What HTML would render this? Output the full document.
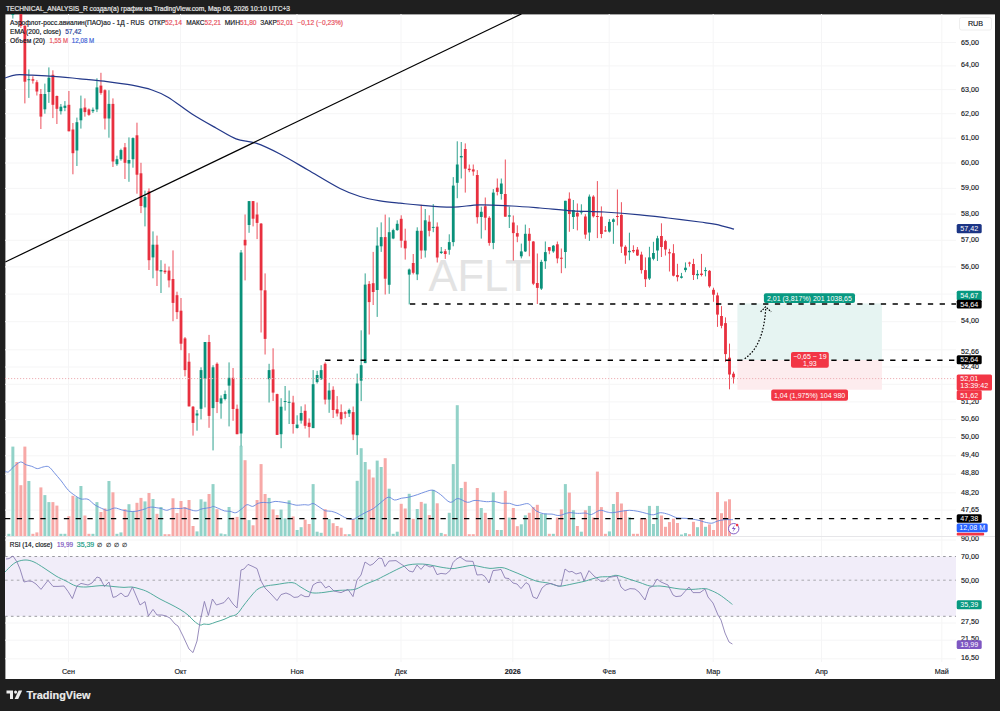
<!DOCTYPE html><html><head><meta charset="utf-8"><style>
html,body{margin:0;padding:0;background:#1f1f1f;width:1000px;height:711px;overflow:hidden}
svg{display:block;font-family:"Liberation Sans",sans-serif}
</style></head><body>
<svg width="1000" height="711" viewBox="0 0 1000 711">
<rect x="0" y="0" width="1000" height="711" fill="#1f1f1f"/>
<rect x="5.4" y="14.4" width="989.6" height="664.6" fill="#ffffff"/>
<defs><clipPath id="pane"><rect x="5" y="14" width="951" height="522"/></clipPath>
<clipPath id="c90"><rect x="950" y="536.2" width="50" height="20"/></clipPath><clipPath id="rsi"><rect x="5" y="537" width="951" height="125"/></clipPath></defs>
<line x1="5" x2="956" y1="42.5" y2="42.5" stroke="#f5f5f6" stroke-width="1"/>
<line x1="5" x2="956" y1="65.9" y2="65.9" stroke="#f5f5f6" stroke-width="1"/>
<line x1="5" x2="956" y1="89.6" y2="89.6" stroke="#f5f5f6" stroke-width="1"/>
<line x1="5" x2="956" y1="113.7" y2="113.7" stroke="#f5f5f6" stroke-width="1"/>
<line x1="5" x2="956" y1="138.2" y2="138.2" stroke="#f5f5f6" stroke-width="1"/>
<line x1="5" x2="956" y1="163.0" y2="163.0" stroke="#f5f5f6" stroke-width="1"/>
<line x1="5" x2="956" y1="188.4" y2="188.4" stroke="#f5f5f6" stroke-width="1"/>
<line x1="5" x2="956" y1="214.1" y2="214.1" stroke="#f5f5f6" stroke-width="1"/>
<line x1="5" x2="956" y1="240.3" y2="240.3" stroke="#f5f5f6" stroke-width="1"/>
<line x1="5" x2="956" y1="266.9" y2="266.9" stroke="#f5f5f6" stroke-width="1"/>
<line x1="5" x2="956" y1="294.1" y2="294.1" stroke="#f5f5f6" stroke-width="1"/>
<line x1="5" x2="956" y1="321.7" y2="321.7" stroke="#f5f5f6" stroke-width="1"/>
<line x1="5" x2="956" y1="349.8" y2="349.8" stroke="#f5f5f6" stroke-width="1"/>
<line x1="5" x2="956" y1="367.0" y2="367.0" stroke="#f5f5f6" stroke-width="1"/>
<line x1="5" x2="956" y1="384.3" y2="384.3" stroke="#f5f5f6" stroke-width="1"/>
<line x1="5" x2="956" y1="401.9" y2="401.9" stroke="#f5f5f6" stroke-width="1"/>
<line x1="5" x2="956" y1="419.6" y2="419.6" stroke="#f5f5f6" stroke-width="1"/>
<line x1="5" x2="956" y1="437.6" y2="437.6" stroke="#f5f5f6" stroke-width="1"/>
<line x1="5" x2="956" y1="455.8" y2="455.8" stroke="#f5f5f6" stroke-width="1"/>
<line x1="5" x2="956" y1="474.2" y2="474.2" stroke="#f5f5f6" stroke-width="1"/>
<line x1="5" x2="956" y1="492.8" y2="492.8" stroke="#f5f5f6" stroke-width="1"/>
<line x1="5" x2="956" y1="510.1" y2="510.1" stroke="#f5f5f6" stroke-width="1"/>
<line x1="5" x2="956" y1="540.0" y2="540.0" stroke="#f5f5f6" stroke-width="1"/>
<line x1="5" x2="956" y1="623.0" y2="623.0" stroke="#f5f5f6" stroke-width="1"/>
<line x1="5" x2="956" y1="640.2" y2="640.2" stroke="#f5f5f6" stroke-width="1"/>
<line x1="5" x2="956" y1="658.8" y2="658.8" stroke="#f5f5f6" stroke-width="1"/>
<line x1="68.5" x2="68.5" y1="14" y2="662" stroke="#f5f5f6" stroke-width="1"/>
<line x1="180.5" x2="180.5" y1="14" y2="662" stroke="#f5f5f6" stroke-width="1"/>
<line x1="297" x2="297" y1="14" y2="662" stroke="#f5f5f6" stroke-width="1"/>
<line x1="401" x2="401" y1="14" y2="662" stroke="#f5f5f6" stroke-width="1"/>
<line x1="512.8" x2="512.8" y1="14" y2="662" stroke="#f5f5f6" stroke-width="1"/>
<line x1="609.2" x2="609.2" y1="14" y2="662" stroke="#f5f5f6" stroke-width="1"/>
<line x1="713.2" x2="713.2" y1="14" y2="662" stroke="#f5f5f6" stroke-width="1"/>
<line x1="821.5" x2="821.5" y1="14" y2="662" stroke="#f5f5f6" stroke-width="1"/>
<line x1="941.8" x2="941.8" y1="14" y2="662" stroke="#f5f5f6" stroke-width="1"/>
<line x1="5" x2="995" y1="536.5" y2="536.5" stroke="#e6e6e9" stroke-width="1"/>
<text x="480" y="290.8" font-size="43.5" fill="#e3e3e3" text-anchor="middle" style="letter-spacing:0px">AFLT</text>
<g clip-path="url(#pane)">
<rect x="7.36" y="533.8" width="3.0" height="2.2" fill="#92d2c8"/>
<rect x="11.36" y="446.6" width="3.0" height="89.4" fill="#92d2c8"/>
<rect x="15.36" y="462.0" width="3.0" height="74.0" fill="#f7a9a7"/>
<rect x="19.37" y="485.2" width="3.0" height="50.8" fill="#f7a9a7"/>
<rect x="23.37" y="446.6" width="3.0" height="89.4" fill="#f7a9a7"/>
<rect x="27.37" y="481.0" width="3.0" height="55.0" fill="#92d2c8"/>
<rect x="31.38" y="533.8" width="3.0" height="2.2" fill="#f7a9a7"/>
<rect x="35.38" y="532.4" width="3.0" height="3.6" fill="#f7a9a7"/>
<rect x="39.39" y="487.4" width="3.0" height="48.6" fill="#f7a9a7"/>
<rect x="43.39" y="495.1" width="3.0" height="40.9" fill="#92d2c8"/>
<rect x="47.39" y="502.1" width="3.0" height="33.9" fill="#92d2c8"/>
<rect x="51.40" y="502.1" width="3.0" height="33.9" fill="#f7a9a7"/>
<rect x="55.40" y="505.6" width="3.0" height="30.4" fill="#f7a9a7"/>
<rect x="59.40" y="533.8" width="3.0" height="2.2" fill="#92d2c8"/>
<rect x="63.41" y="533.8" width="3.0" height="2.2" fill="#92d2c8"/>
<rect x="67.41" y="516.2" width="3.0" height="19.8" fill="#f7a9a7"/>
<rect x="71.41" y="495.8" width="3.0" height="40.2" fill="#f7a9a7"/>
<rect x="75.42" y="497.2" width="3.0" height="38.8" fill="#92d2c8"/>
<rect x="79.42" y="486.0" width="3.0" height="50.0" fill="#92d2c8"/>
<rect x="83.42" y="515.5" width="3.0" height="20.5" fill="#f7a9a7"/>
<rect x="87.43" y="533.8" width="3.0" height="2.2" fill="#f7a9a7"/>
<rect x="91.43" y="533.8" width="3.0" height="2.2" fill="#92d2c8"/>
<rect x="95.44" y="502.1" width="3.0" height="33.9" fill="#92d2c8"/>
<rect x="99.44" y="512.0" width="3.0" height="24.0" fill="#f7a9a7"/>
<rect x="103.44" y="508.5" width="3.0" height="27.5" fill="#f7a9a7"/>
<rect x="107.45" y="481.0" width="3.0" height="55.0" fill="#92d2c8"/>
<rect x="111.45" y="492.3" width="3.0" height="43.7" fill="#f7a9a7"/>
<rect x="115.45" y="533.8" width="3.0" height="2.2" fill="#92d2c8"/>
<rect x="119.46" y="532.4" width="3.0" height="3.6" fill="#92d2c8"/>
<rect x="123.46" y="509.2" width="3.0" height="26.8" fill="#f7a9a7"/>
<rect x="127.46" y="504.2" width="3.0" height="31.8" fill="#92d2c8"/>
<rect x="131.47" y="511.3" width="3.0" height="24.7" fill="#92d2c8"/>
<rect x="135.47" y="502.8" width="3.0" height="33.2" fill="#f7a9a7"/>
<rect x="139.48" y="497.9" width="3.0" height="38.1" fill="#f7a9a7"/>
<rect x="143.48" y="501.4" width="3.0" height="34.6" fill="#92d2c8"/>
<rect x="147.48" y="493.0" width="3.0" height="43.0" fill="#f7a9a7"/>
<rect x="151.49" y="499.0" width="3.0" height="37.0" fill="#92d2c8"/>
<rect x="155.49" y="513.8" width="3.0" height="22.2" fill="#f7a9a7"/>
<rect x="159.49" y="507.0" width="3.0" height="29.0" fill="#92d2c8"/>
<rect x="163.50" y="534.2" width="3.0" height="1.8" fill="#f7a9a7"/>
<rect x="167.50" y="534.2" width="3.0" height="1.8" fill="#f7a9a7"/>
<rect x="171.50" y="498.3" width="3.0" height="37.7" fill="#f7a9a7"/>
<rect x="175.51" y="513.1" width="3.0" height="22.9" fill="#f7a9a7"/>
<rect x="179.51" y="501.0" width="3.0" height="35.0" fill="#f7a9a7"/>
<rect x="183.51" y="507.0" width="3.0" height="29.0" fill="#f7a9a7"/>
<rect x="187.52" y="500.0" width="3.0" height="36.0" fill="#f7a9a7"/>
<rect x="191.52" y="526.0" width="3.0" height="10.0" fill="#f7a9a7"/>
<rect x="195.53" y="531.4" width="3.0" height="4.6" fill="#92d2c8"/>
<rect x="199.53" y="499.3" width="3.0" height="36.7" fill="#92d2c8"/>
<rect x="203.53" y="501.7" width="3.0" height="34.3" fill="#92d2c8"/>
<rect x="207.54" y="494.0" width="3.0" height="42.0" fill="#f7a9a7"/>
<rect x="211.54" y="484.1" width="3.0" height="51.9" fill="#92d2c8"/>
<rect x="215.54" y="509.2" width="3.0" height="26.8" fill="#f7a9a7"/>
<rect x="219.55" y="533.5" width="3.0" height="2.5" fill="#92d2c8"/>
<rect x="223.55" y="534.2" width="3.0" height="1.8" fill="#92d2c8"/>
<rect x="227.55" y="507.0" width="3.0" height="29.0" fill="#92d2c8"/>
<rect x="231.56" y="517.6" width="3.0" height="18.4" fill="#f7a9a7"/>
<rect x="235.56" y="516.9" width="3.0" height="19.1" fill="#f7a9a7"/>
<rect x="239.57" y="445.8" width="3.0" height="90.2" fill="#92d2c8"/>
<rect x="243.57" y="460.2" width="3.0" height="75.8" fill="#f7a9a7"/>
<rect x="247.57" y="520.1" width="3.0" height="15.9" fill="#92d2c8"/>
<rect x="251.58" y="525.3" width="3.0" height="10.7" fill="#f7a9a7"/>
<rect x="255.58" y="500.0" width="3.0" height="36.0" fill="#f7a9a7"/>
<rect x="259.58" y="464.1" width="3.0" height="71.9" fill="#f7a9a7"/>
<rect x="263.59" y="494.0" width="3.0" height="42.0" fill="#f7a9a7"/>
<rect x="267.59" y="497.9" width="3.0" height="38.1" fill="#92d2c8"/>
<rect x="271.59" y="509.4" width="3.0" height="26.6" fill="#f7a9a7"/>
<rect x="275.60" y="515.0" width="3.0" height="21.0" fill="#f7a9a7"/>
<rect x="279.60" y="509.6" width="3.0" height="26.4" fill="#92d2c8"/>
<rect x="283.60" y="518.3" width="3.0" height="17.7" fill="#92d2c8"/>
<rect x="287.61" y="500.4" width="3.0" height="35.6" fill="#92d2c8"/>
<rect x="291.61" y="516.5" width="3.0" height="19.5" fill="#f7a9a7"/>
<rect x="295.62" y="530.0" width="3.0" height="6.0" fill="#92d2c8"/>
<rect x="299.62" y="527.2" width="3.0" height="8.8" fill="#92d2c8"/>
<rect x="303.62" y="519.7" width="3.0" height="16.3" fill="#f7a9a7"/>
<rect x="307.63" y="524.0" width="3.0" height="12.0" fill="#f7a9a7"/>
<rect x="311.63" y="484.1" width="3.0" height="51.9" fill="#92d2c8"/>
<rect x="315.63" y="531.7" width="3.0" height="4.3" fill="#92d2c8"/>
<rect x="319.64" y="532.8" width="3.0" height="3.2" fill="#92d2c8"/>
<rect x="323.64" y="509.2" width="3.0" height="26.8" fill="#f7a9a7"/>
<rect x="327.64" y="519.0" width="3.0" height="17.0" fill="#92d2c8"/>
<rect x="331.65" y="523.2" width="3.0" height="12.8" fill="#f7a9a7"/>
<rect x="335.65" y="526.0" width="3.0" height="10.0" fill="#f7a9a7"/>
<rect x="339.66" y="527.7" width="3.0" height="8.3" fill="#f7a9a7"/>
<rect x="343.66" y="534.2" width="3.0" height="1.8" fill="#f7a9a7"/>
<rect x="347.66" y="534.2" width="3.0" height="1.8" fill="#92d2c8"/>
<rect x="351.67" y="519.0" width="3.0" height="17.0" fill="#f7a9a7"/>
<rect x="355.67" y="480.8" width="3.0" height="55.2" fill="#92d2c8"/>
<rect x="359.67" y="448.2" width="3.0" height="87.8" fill="#92d2c8"/>
<rect x="363.68" y="462.0" width="3.0" height="74.0" fill="#92d2c8"/>
<rect x="367.68" y="469.5" width="3.0" height="66.5" fill="#f7a9a7"/>
<rect x="371.68" y="477.5" width="3.0" height="58.5" fill="#f7a9a7"/>
<rect x="375.69" y="460.6" width="3.0" height="75.4" fill="#92d2c8"/>
<rect x="379.69" y="467.0" width="3.0" height="69.0" fill="#92d2c8"/>
<rect x="383.69" y="458.2" width="3.0" height="77.8" fill="#f7a9a7"/>
<rect x="387.70" y="488.7" width="3.0" height="47.3" fill="#92d2c8"/>
<rect x="391.70" y="533.8" width="3.0" height="2.2" fill="#92d2c8"/>
<rect x="395.71" y="531.7" width="3.0" height="4.3" fill="#92d2c8"/>
<rect x="399.71" y="503.8" width="3.0" height="32.2" fill="#f7a9a7"/>
<rect x="403.71" y="508.5" width="3.0" height="27.5" fill="#f7a9a7"/>
<rect x="407.72" y="493.8" width="3.0" height="42.2" fill="#92d2c8"/>
<rect x="411.72" y="518.8" width="3.0" height="17.2" fill="#f7a9a7"/>
<rect x="415.72" y="509.0" width="3.0" height="27.0" fill="#92d2c8"/>
<rect x="419.73" y="501.9" width="3.0" height="34.1" fill="#f7a9a7"/>
<rect x="423.73" y="503.6" width="3.0" height="32.4" fill="#92d2c8"/>
<rect x="427.73" y="515.1" width="3.0" height="20.9" fill="#f7a9a7"/>
<rect x="431.74" y="489.9" width="3.0" height="46.1" fill="#92d2c8"/>
<rect x="435.74" y="503.3" width="3.0" height="32.7" fill="#f7a9a7"/>
<rect x="439.75" y="532.9" width="3.0" height="3.1" fill="#92d2c8"/>
<rect x="443.75" y="534.2" width="3.0" height="1.8" fill="#f7a9a7"/>
<rect x="447.75" y="512.8" width="3.0" height="23.2" fill="#92d2c8"/>
<rect x="451.76" y="464.1" width="3.0" height="71.9" fill="#92d2c8"/>
<rect x="455.76" y="405.2" width="3.0" height="130.8" fill="#92d2c8"/>
<rect x="459.76" y="488.0" width="3.0" height="48.0" fill="#92d2c8"/>
<rect x="463.77" y="481.8" width="3.0" height="54.2" fill="#f7a9a7"/>
<rect x="467.77" y="534.2" width="3.0" height="1.8" fill="#f7a9a7"/>
<rect x="471.77" y="534.2" width="3.0" height="1.8" fill="#f7a9a7"/>
<rect x="475.78" y="488.0" width="3.0" height="48.0" fill="#f7a9a7"/>
<rect x="479.78" y="508.0" width="3.0" height="28.0" fill="#92d2c8"/>
<rect x="483.78" y="512.8" width="3.0" height="23.2" fill="#f7a9a7"/>
<rect x="487.79" y="519.5" width="3.0" height="16.5" fill="#f7a9a7"/>
<rect x="491.79" y="492.4" width="3.0" height="43.6" fill="#92d2c8"/>
<rect x="495.80" y="530.0" width="3.0" height="6.0" fill="#f7a9a7"/>
<rect x="499.80" y="530.0" width="3.0" height="6.0" fill="#92d2c8"/>
<rect x="503.80" y="490.8" width="3.0" height="45.2" fill="#f7a9a7"/>
<rect x="507.81" y="517.6" width="3.0" height="18.4" fill="#92d2c8"/>
<rect x="511.81" y="508.0" width="3.0" height="28.0" fill="#f7a9a7"/>
<rect x="515.81" y="526.2" width="3.0" height="9.8" fill="#f7a9a7"/>
<rect x="519.82" y="524.3" width="3.0" height="11.7" fill="#92d2c8"/>
<rect x="523.82" y="515.3" width="3.0" height="20.7" fill="#92d2c8"/>
<rect x="527.82" y="512.8" width="3.0" height="23.2" fill="#f7a9a7"/>
<rect x="531.83" y="507.1" width="3.0" height="28.9" fill="#f7a9a7"/>
<rect x="535.83" y="504.8" width="3.0" height="31.2" fill="#f7a9a7"/>
<rect x="539.84" y="513.8" width="3.0" height="22.2" fill="#92d2c8"/>
<rect x="543.84" y="513.6" width="3.0" height="22.4" fill="#92d2c8"/>
<rect x="547.84" y="533.8" width="3.0" height="2.2" fill="#f7a9a7"/>
<rect x="551.85" y="533.8" width="3.0" height="2.2" fill="#92d2c8"/>
<rect x="555.85" y="517.6" width="3.0" height="18.4" fill="#f7a9a7"/>
<rect x="559.85" y="509.4" width="3.0" height="26.6" fill="#f7a9a7"/>
<rect x="563.86" y="484.1" width="3.0" height="51.9" fill="#92d2c8"/>
<rect x="567.86" y="492.6" width="3.0" height="43.4" fill="#f7a9a7"/>
<rect x="571.86" y="510.2" width="3.0" height="25.8" fill="#92d2c8"/>
<rect x="575.87" y="526.0" width="3.0" height="10.0" fill="#f7a9a7"/>
<rect x="579.87" y="531.7" width="3.0" height="4.3" fill="#92d2c8"/>
<rect x="583.87" y="510.3" width="3.0" height="25.7" fill="#f7a9a7"/>
<rect x="587.88" y="505.9" width="3.0" height="30.1" fill="#92d2c8"/>
<rect x="591.88" y="517.6" width="3.0" height="18.4" fill="#f7a9a7"/>
<rect x="595.89" y="471.6" width="3.0" height="64.4" fill="#f7a9a7"/>
<rect x="599.89" y="507.1" width="3.0" height="28.9" fill="#f7a9a7"/>
<rect x="603.89" y="533.8" width="3.0" height="2.2" fill="#f7a9a7"/>
<rect x="607.90" y="531.4" width="3.0" height="4.6" fill="#92d2c8"/>
<rect x="611.90" y="504.0" width="3.0" height="32.0" fill="#92d2c8"/>
<rect x="615.90" y="492.0" width="3.0" height="44.0" fill="#f7a9a7"/>
<rect x="619.91" y="503.5" width="3.0" height="32.5" fill="#f7a9a7"/>
<rect x="623.91" y="510.3" width="3.0" height="25.7" fill="#f7a9a7"/>
<rect x="627.91" y="517.3" width="3.0" height="18.7" fill="#92d2c8"/>
<rect x="631.92" y="533.8" width="3.0" height="2.2" fill="#f7a9a7"/>
<rect x="635.92" y="533.8" width="3.0" height="2.2" fill="#f7a9a7"/>
<rect x="639.93" y="518.5" width="3.0" height="17.5" fill="#f7a9a7"/>
<rect x="643.93" y="518.8" width="3.0" height="17.2" fill="#f7a9a7"/>
<rect x="647.93" y="505.9" width="3.0" height="30.1" fill="#92d2c8"/>
<rect x="651.94" y="524.0" width="3.0" height="12.0" fill="#92d2c8"/>
<rect x="655.94" y="505.9" width="3.0" height="30.1" fill="#92d2c8"/>
<rect x="659.94" y="515.5" width="3.0" height="20.5" fill="#f7a9a7"/>
<rect x="663.95" y="526.8" width="3.0" height="9.2" fill="#f7a9a7"/>
<rect x="667.95" y="522.1" width="3.0" height="13.9" fill="#f7a9a7"/>
<rect x="671.95" y="518.7" width="3.0" height="17.3" fill="#f7a9a7"/>
<rect x="675.96" y="523.0" width="3.0" height="13.0" fill="#f7a9a7"/>
<rect x="679.96" y="534.5" width="3.0" height="1.5" fill="#92d2c8"/>
<rect x="683.96" y="533.1" width="3.0" height="2.9" fill="#92d2c8"/>
<rect x="687.97" y="534.2" width="3.0" height="1.8" fill="#f7a9a7"/>
<rect x="691.97" y="521.8" width="3.0" height="14.2" fill="#f7a9a7"/>
<rect x="695.98" y="527.2" width="3.0" height="8.8" fill="#92d2c8"/>
<rect x="699.98" y="519.7" width="3.0" height="16.3" fill="#f7a9a7"/>
<rect x="703.98" y="526.8" width="3.0" height="9.2" fill="#92d2c8"/>
<rect x="707.99" y="524.4" width="3.0" height="11.6" fill="#f7a9a7"/>
<rect x="711.99" y="530.0" width="3.0" height="6.0" fill="#f7a9a7"/>
<rect x="715.99" y="492.1" width="3.0" height="43.9" fill="#f7a9a7"/>
<rect x="720.00" y="513.2" width="3.0" height="22.8" fill="#f7a9a7"/>
<rect x="724.00" y="501.4" width="3.0" height="34.6" fill="#f7a9a7"/>
<rect x="728.00" y="499.3" width="3.0" height="36.7" fill="#f7a9a7"/>
<path d="M5.0,471.2 C5.6,471.3 7.1,472.6 8.5,471.9 C9.9,471.2 11.4,468.6 13.4,467.0 C15.4,465.4 18.4,462.4 20.5,462.0 C22.6,461.6 24.2,464.1 26.1,464.8 C28.0,465.5 29.8,465.7 31.7,466.3 C33.6,466.9 35.5,468.5 37.4,468.6 C39.3,468.7 41.1,467.3 43.0,467.0 C44.9,466.7 46.7,465.8 48.6,466.7 C50.5,467.6 52.1,470.2 54.2,472.6 C56.3,475.0 58.9,478.1 61.3,481.0 C63.6,483.9 65.9,487.7 68.3,490.2 C70.7,492.7 73.3,494.3 75.4,495.8 C77.5,497.3 78.9,498.4 81.0,499.0 C83.1,499.6 85.7,498.3 88.0,499.3 C90.3,500.3 92.4,503.4 95.0,505.0 C97.6,506.6 101.4,508.3 103.5,509.2 C105.6,510.1 105.8,510.5 107.7,510.3 C109.6,510.1 112.4,508.1 114.7,508.0 C117.0,507.9 119.4,509.3 121.8,509.9 C124.2,510.4 126.5,511.1 128.8,511.3 C131.2,511.5 133.3,511.7 135.9,511.3 C138.5,510.9 142.1,509.8 144.2,509.2 C146.3,508.6 147.0,507.9 148.4,507.5 C149.8,507.1 151.3,507.1 152.7,507.1 C154.1,507.2 155.5,507.6 156.9,507.8 C158.3,508.0 159.5,508.1 161.1,508.5 C162.7,508.9 164.8,510.3 166.7,510.3 C168.6,510.3 170.1,508.8 172.4,508.5 C174.8,508.2 178.7,508.6 180.8,508.5 C182.9,508.4 182.9,507.8 185.0,508.1 C187.1,508.5 191.4,510.2 193.5,510.6 C195.6,511.0 196.3,510.9 197.7,510.6 C199.1,510.3 199.8,509.4 201.9,508.9 C204.0,508.4 208.5,507.9 210.4,507.5 C212.3,507.1 211.8,506.2 213.2,506.4 C214.6,506.6 216.9,507.8 218.8,508.5 C220.7,509.2 222.5,510.4 224.4,510.9 C226.3,511.4 228.1,511.0 230.0,511.3 C231.9,511.6 233.8,513.1 235.7,512.7 C237.6,512.4 239.4,510.5 241.3,509.2 C243.2,507.9 245.0,505.2 246.9,504.7 C248.8,504.2 250.7,506.6 252.6,506.4 C254.5,506.2 256.3,504.0 258.2,503.3 C260.1,502.6 261.9,502.5 263.8,502.4 C265.7,502.3 267.5,503.0 269.4,502.8 C271.3,502.6 273.0,501.5 275.1,501.4 C277.2,501.3 279.7,501.8 282.0,502.1 C284.3,502.4 286.8,502.8 289.1,503.3 C291.5,503.8 293.5,505.0 296.1,505.2 C298.7,505.4 302.4,504.7 304.5,504.7 C306.6,504.7 307.4,505.2 308.8,505.0 C310.2,504.8 311.6,503.4 313.0,503.5 C314.4,503.6 315.6,504.7 317.2,505.7 C318.8,506.7 321.4,508.5 322.8,509.4 C324.2,510.3 324.3,510.6 325.7,510.9 C327.1,511.2 329.4,510.9 331.3,511.3 C333.2,511.7 335.0,512.3 336.9,513.1 C338.8,513.9 340.9,515.3 342.5,516.2 C344.1,517.1 345.0,517.8 346.8,518.3 C348.6,518.8 351.0,519.7 353.1,519.3 C355.2,518.9 357.2,517.1 359.4,515.9 C361.6,514.7 364.1,513.2 366.5,512.0 C368.9,510.8 371.2,510.0 373.5,508.5 C375.8,507.0 378.0,504.7 380.5,502.8 C383.0,500.9 385.9,497.7 388.3,497.2 C390.7,496.7 392.4,499.8 394.6,500.0 C396.8,500.2 399.2,498.7 401.6,498.2 C404.0,497.7 406.0,497.8 408.7,497.2 C411.4,496.6 414.8,495.5 417.6,494.6 C420.4,493.7 422.8,492.5 425.3,491.8 C427.9,491.1 430.3,489.7 432.9,490.2 C435.4,490.7 437.7,492.6 440.6,494.6 C443.5,496.6 447.3,501.7 450.2,502.3 C453.1,502.9 454.9,498.5 457.8,498.5 C460.7,498.5 464.5,502.0 467.4,502.3 C470.3,502.6 471.8,500.5 475.0,500.4 C478.2,500.3 483.3,501.5 486.5,501.7 C489.7,501.9 491.6,501.0 494.1,501.3 C496.7,501.6 499.2,503.0 501.8,503.3 C504.4,503.6 506.8,502.9 509.4,503.3 C511.9,503.7 514.2,505.4 517.1,505.5 C520.0,505.6 524.4,503.7 526.6,503.6 C528.8,503.6 528.9,504.0 530.5,505.2 C532.1,506.4 534.0,509.5 536.2,510.9 C538.4,512.3 541.2,513.3 543.8,513.8 C546.4,514.3 549.5,513.8 552.0,514.1 C554.5,514.4 556.3,515.7 559.1,515.5 C561.9,515.3 565.9,513.1 568.9,512.7 C571.9,512.4 574.6,513.3 577.4,513.4 C580.2,513.5 583.5,512.9 585.8,513.1 C588.1,513.3 589.0,515.0 591.4,514.5 C593.8,514.0 597.3,510.7 599.9,510.3 C602.5,509.9 604.8,511.6 606.9,512.0 C609.0,512.4 610.1,512.8 612.5,512.7 C614.9,512.6 618.2,511.7 621.0,511.3 C623.8,510.9 626.6,510.3 629.4,510.3 C632.2,510.3 635.1,510.8 637.9,511.3 C640.7,511.8 643.7,512.8 646.3,513.4 C648.9,514.0 650.9,514.9 653.3,514.8 C655.6,514.7 657.8,512.8 660.4,512.7 C663.0,512.7 666.0,513.6 668.8,514.5 C671.6,515.4 674.6,517.3 677.3,517.9 C680.0,518.5 682.5,518.1 685.0,518.3 C687.5,518.5 689.8,518.6 692.1,519.0 C694.5,519.4 697.0,519.9 699.1,520.4 C701.2,520.9 702.6,521.6 704.7,522.1 C706.8,522.6 709.7,523.4 711.8,523.2 C713.9,523.0 715.3,521.7 717.4,521.1 C719.5,520.5 721.8,519.9 724.4,519.7 C727.0,519.5 731.5,519.7 732.9,519.7" fill="none" stroke="#6585dc" stroke-width="0.9"/>
<line x1="12.86" x2="12.86" y1="14.0" y2="18.6" stroke="#0a917a" stroke-width="0.85"/>
<rect x="11.46" y="14.0" width="2.8" height="1.0" fill="#0a917a"/>
<line x1="20.87" x2="20.87" y1="14.0" y2="28.0" stroke="#e8303f" stroke-width="0.85"/>
<rect x="19.47" y="14.0" width="2.8" height="12.0" fill="#e8303f"/>
<line x1="24.87" x2="24.87" y1="25.6" y2="103.4" stroke="#e8303f" stroke-width="0.85"/>
<rect x="23.47" y="25.6" width="2.8" height="56.1" fill="#e8303f"/>
<line x1="28.87" x2="28.87" y1="69.4" y2="97.9" stroke="#0a917a" stroke-width="0.85"/>
<rect x="27.47" y="79.2" width="2.8" height="1.0" fill="#0a917a"/>
<line x1="32.88" x2="32.88" y1="76.3" y2="83.6" stroke="#e8303f" stroke-width="0.85"/>
<rect x="31.48" y="79.2" width="2.8" height="1.5" fill="#e8303f"/>
<line x1="36.88" x2="36.88" y1="80.2" y2="95.5" stroke="#e8303f" stroke-width="0.85"/>
<rect x="35.48" y="82.2" width="2.8" height="9.3" fill="#e8303f"/>
<line x1="40.89" x2="40.89" y1="89.0" y2="129.0" stroke="#e8303f" stroke-width="0.85"/>
<rect x="39.49" y="94.0" width="2.8" height="22.6" fill="#e8303f"/>
<line x1="44.89" x2="44.89" y1="83.6" y2="113.7" stroke="#0a917a" stroke-width="0.85"/>
<rect x="43.49" y="94.0" width="2.8" height="15.3" fill="#0a917a"/>
<line x1="48.89" x2="48.89" y1="67.4" y2="102.9" stroke="#0a917a" stroke-width="0.85"/>
<rect x="47.49" y="77.7" width="2.8" height="14.3" fill="#0a917a"/>
<line x1="52.90" x2="52.90" y1="70.3" y2="118.1" stroke="#e8303f" stroke-width="0.85"/>
<rect x="51.50" y="74.8" width="2.8" height="30.0" fill="#e8303f"/>
<line x1="56.90" x2="56.90" y1="95.5" y2="124.0" stroke="#e8303f" stroke-width="0.85"/>
<rect x="55.50" y="96.0" width="2.8" height="12.8" fill="#e8303f"/>
<line x1="60.90" x2="60.90" y1="104.0" y2="114.5" stroke="#0a917a" stroke-width="0.85"/>
<rect x="59.50" y="106.7" width="2.8" height="4.5" fill="#0a917a"/>
<line x1="64.91" x2="64.91" y1="101.1" y2="111.2" stroke="#0a917a" stroke-width="0.85"/>
<rect x="63.51" y="105.7" width="2.8" height="2.2" fill="#0a917a"/>
<line x1="68.91" x2="68.91" y1="91.0" y2="131.3" stroke="#e8303f" stroke-width="0.85"/>
<rect x="67.51" y="104.8" width="2.8" height="26.5" fill="#e8303f"/>
<line x1="72.91" x2="72.91" y1="123.0" y2="174.3" stroke="#e8303f" stroke-width="0.85"/>
<rect x="71.51" y="129.5" width="2.8" height="23.7" fill="#e8303f"/>
<line x1="76.92" x2="76.92" y1="117.6" y2="166.0" stroke="#0a917a" stroke-width="0.85"/>
<rect x="75.52" y="122.2" width="2.8" height="28.3" fill="#0a917a"/>
<line x1="80.92" x2="80.92" y1="95.6" y2="128.6" stroke="#0a917a" stroke-width="0.85"/>
<rect x="79.52" y="108.4" width="2.8" height="11.9" fill="#0a917a"/>
<line x1="84.92" x2="84.92" y1="98.4" y2="116.7" stroke="#e8303f" stroke-width="0.85"/>
<rect x="83.52" y="107.5" width="2.8" height="4.6" fill="#e8303f"/>
<line x1="88.93" x2="88.93" y1="108.4" y2="115.8" stroke="#e8303f" stroke-width="0.85"/>
<rect x="87.53" y="109.4" width="2.8" height="5.4" fill="#e8303f"/>
<line x1="92.93" x2="92.93" y1="107.5" y2="113.0" stroke="#0a917a" stroke-width="0.85"/>
<rect x="91.53" y="109.7" width="2.8" height="1.5" fill="#0a917a"/>
<line x1="96.94" x2="96.94" y1="78.3" y2="112.1" stroke="#0a917a" stroke-width="0.85"/>
<rect x="95.54" y="87.4" width="2.8" height="22.0" fill="#0a917a"/>
<line x1="100.94" x2="100.94" y1="72.8" y2="94.7" stroke="#e8303f" stroke-width="0.85"/>
<rect x="99.54" y="85.6" width="2.8" height="7.3" fill="#e8303f"/>
<line x1="104.94" x2="104.94" y1="89.3" y2="129.5" stroke="#e8303f" stroke-width="0.85"/>
<rect x="103.54" y="90.2" width="2.8" height="28.3" fill="#e8303f"/>
<line x1="108.95" x2="108.95" y1="90.2" y2="137.7" stroke="#0a917a" stroke-width="0.85"/>
<rect x="107.55" y="103.9" width="2.8" height="14.6" fill="#0a917a"/>
<line x1="112.95" x2="112.95" y1="98.4" y2="167.0" stroke="#e8303f" stroke-width="0.85"/>
<rect x="111.55" y="103.9" width="2.8" height="57.6" fill="#e8303f"/>
<line x1="116.95" x2="116.95" y1="155.7" y2="165.8" stroke="#0a917a" stroke-width="0.85"/>
<rect x="115.55" y="159.2" width="2.8" height="5.0" fill="#0a917a"/>
<line x1="120.96" x2="120.96" y1="148.7" y2="160.7" stroke="#0a917a" stroke-width="0.85"/>
<rect x="119.56" y="150.1" width="2.8" height="9.1" fill="#0a917a"/>
<line x1="124.96" x2="124.96" y1="143.0" y2="179.0" stroke="#e8303f" stroke-width="0.85"/>
<rect x="123.56" y="147.3" width="2.8" height="15.5" fill="#e8303f"/>
<line x1="128.96" x2="128.96" y1="137.4" y2="181.8" stroke="#0a917a" stroke-width="0.85"/>
<rect x="127.56" y="160.0" width="2.8" height="3.5" fill="#0a917a"/>
<line x1="132.97" x2="132.97" y1="137.4" y2="167.7" stroke="#0a917a" stroke-width="0.85"/>
<rect x="131.57" y="138.1" width="2.8" height="21.1" fill="#0a917a"/>
<line x1="136.97" x2="136.97" y1="122.7" y2="193.7" stroke="#e8303f" stroke-width="0.85"/>
<rect x="135.57" y="135.3" width="2.8" height="39.4" fill="#e8303f"/>
<line x1="140.98" x2="140.98" y1="162.8" y2="213.1" stroke="#e8303f" stroke-width="0.85"/>
<rect x="139.58" y="173.3" width="2.8" height="32.7" fill="#e8303f"/>
<line x1="144.98" x2="144.98" y1="190.6" y2="226.4" stroke="#0a917a" stroke-width="0.85"/>
<rect x="143.58" y="196.9" width="2.8" height="10.5" fill="#0a917a"/>
<line x1="148.98" x2="148.98" y1="188.4" y2="270.0" stroke="#e8303f" stroke-width="0.85"/>
<rect x="147.58" y="191.3" width="2.8" height="68.9" fill="#e8303f"/>
<line x1="152.99" x2="152.99" y1="231.4" y2="278.3" stroke="#0a917a" stroke-width="0.85"/>
<rect x="151.59" y="244.7" width="2.8" height="12.7" fill="#0a917a"/>
<line x1="156.99" x2="156.99" y1="235.6" y2="286.0" stroke="#e8303f" stroke-width="0.85"/>
<rect x="155.59" y="244.7" width="2.8" height="25.9" fill="#e8303f"/>
<line x1="160.99" x2="160.99" y1="260.2" y2="293.0" stroke="#0a917a" stroke-width="0.85"/>
<rect x="159.59" y="270.0" width="2.8" height="1.5" fill="#0a917a"/>
<line x1="165.00" x2="165.00" y1="263.7" y2="274.0" stroke="#e8303f" stroke-width="0.85"/>
<rect x="163.60" y="270.6" width="2.8" height="1.6" fill="#e8303f"/>
<line x1="169.00" x2="169.00" y1="266.5" y2="287.4" stroke="#e8303f" stroke-width="0.85"/>
<rect x="167.60" y="270.6" width="2.8" height="9.8" fill="#e8303f"/>
<line x1="173.00" x2="173.00" y1="250.4" y2="321.2" stroke="#e8303f" stroke-width="0.85"/>
<rect x="171.60" y="279.0" width="2.8" height="23.9" fill="#e8303f"/>
<line x1="177.01" x2="177.01" y1="291.7" y2="319.1" stroke="#e8303f" stroke-width="0.85"/>
<rect x="175.61" y="295.2" width="2.8" height="16.9" fill="#e8303f"/>
<line x1="181.01" x2="181.01" y1="298.0" y2="350.2" stroke="#e8303f" stroke-width="0.85"/>
<rect x="179.61" y="310.7" width="2.8" height="33.0" fill="#e8303f"/>
<line x1="185.01" x2="185.01" y1="337.0" y2="376.4" stroke="#e8303f" stroke-width="0.85"/>
<rect x="183.61" y="338.4" width="2.8" height="31.7" fill="#e8303f"/>
<line x1="189.02" x2="189.02" y1="353.2" y2="406.4" stroke="#e8303f" stroke-width="0.85"/>
<rect x="187.62" y="361.7" width="2.8" height="44.7" fill="#e8303f"/>
<line x1="193.02" x2="193.02" y1="406.0" y2="435.6" stroke="#e8303f" stroke-width="0.85"/>
<rect x="191.62" y="406.7" width="2.8" height="16.2" fill="#e8303f"/>
<line x1="197.03" x2="197.03" y1="410.0" y2="430.7" stroke="#0a917a" stroke-width="0.85"/>
<rect x="195.63" y="413.5" width="2.8" height="2.0" fill="#0a917a"/>
<line x1="201.03" x2="201.03" y1="367.3" y2="419.4" stroke="#0a917a" stroke-width="0.85"/>
<rect x="199.63" y="370.1" width="2.8" height="38.7" fill="#0a917a"/>
<line x1="205.03" x2="205.03" y1="342.0" y2="407.4" stroke="#0a917a" stroke-width="0.85"/>
<rect x="203.63" y="342.0" width="2.8" height="36.5" fill="#0a917a"/>
<line x1="209.04" x2="209.04" y1="334.9" y2="427.8" stroke="#e8303f" stroke-width="0.85"/>
<rect x="207.64" y="342.0" width="2.8" height="73.9" fill="#e8303f"/>
<line x1="213.04" x2="213.04" y1="365.2" y2="450.4" stroke="#0a917a" stroke-width="0.85"/>
<rect x="211.64" y="367.3" width="2.8" height="40.8" fill="#0a917a"/>
<line x1="217.04" x2="217.04" y1="362.4" y2="413.1" stroke="#e8303f" stroke-width="0.85"/>
<rect x="215.64" y="363.8" width="2.8" height="38.2" fill="#e8303f"/>
<line x1="221.05" x2="221.05" y1="395.4" y2="418.7" stroke="#0a917a" stroke-width="0.85"/>
<rect x="219.65" y="398.3" width="2.8" height="5.2" fill="#0a917a"/>
<line x1="225.05" x2="225.05" y1="390.5" y2="400.4" stroke="#0a917a" stroke-width="0.85"/>
<rect x="223.65" y="394.0" width="2.8" height="5.0" fill="#0a917a"/>
<line x1="229.05" x2="229.05" y1="362.4" y2="426.4" stroke="#0a917a" stroke-width="0.85"/>
<rect x="227.65" y="377.8" width="2.8" height="7.8" fill="#0a917a"/>
<line x1="233.06" x2="233.06" y1="368.0" y2="420.8" stroke="#e8303f" stroke-width="0.85"/>
<rect x="231.66" y="377.8" width="2.8" height="31.2" fill="#e8303f"/>
<line x1="237.06" x2="237.06" y1="404.6" y2="434.2" stroke="#e8303f" stroke-width="0.85"/>
<rect x="235.66" y="408.8" width="2.8" height="25.4" fill="#e8303f"/>
<line x1="241.07" x2="241.07" y1="250.0" y2="446.1" stroke="#0a917a" stroke-width="0.85"/>
<rect x="239.67" y="252.5" width="2.8" height="181.0" fill="#0a917a"/>
<line x1="245.07" x2="245.07" y1="214.5" y2="280.4" stroke="#e8303f" stroke-width="0.85"/>
<rect x="243.67" y="239.8" width="2.8" height="5.6" fill="#e8303f"/>
<line x1="249.07" x2="249.07" y1="201.0" y2="232.8" stroke="#0a917a" stroke-width="0.85"/>
<rect x="247.67" y="201.1" width="2.8" height="23.9" fill="#0a917a"/>
<line x1="253.08" x2="253.08" y1="201.1" y2="226.4" stroke="#e8303f" stroke-width="0.85"/>
<rect x="251.68" y="201.1" width="2.8" height="17.6" fill="#e8303f"/>
<line x1="257.08" x2="257.08" y1="202.5" y2="239.1" stroke="#e8303f" stroke-width="0.85"/>
<rect x="255.68" y="214.5" width="2.8" height="8.4" fill="#e8303f"/>
<line x1="261.08" x2="261.08" y1="223.0" y2="332.5" stroke="#e8303f" stroke-width="0.85"/>
<rect x="259.68" y="223.6" width="2.8" height="66.7" fill="#e8303f"/>
<line x1="265.09" x2="265.09" y1="273.4" y2="354.5" stroke="#e8303f" stroke-width="0.85"/>
<rect x="263.69" y="290.3" width="2.8" height="48.6" fill="#e8303f"/>
<line x1="269.09" x2="269.09" y1="363.8" y2="402.5" stroke="#0a917a" stroke-width="0.85"/>
<rect x="267.69" y="370.1" width="2.8" height="9.1" fill="#0a917a"/>
<line x1="273.09" x2="273.09" y1="348.3" y2="401.0" stroke="#e8303f" stroke-width="0.85"/>
<rect x="271.69" y="369.4" width="2.8" height="23.2" fill="#e8303f"/>
<line x1="277.10" x2="277.10" y1="393.7" y2="434.9" stroke="#e8303f" stroke-width="0.85"/>
<rect x="275.70" y="394.1" width="2.8" height="40.8" fill="#e8303f"/>
<line x1="281.10" x2="281.10" y1="398.2" y2="448.2" stroke="#0a917a" stroke-width="0.85"/>
<rect x="279.70" y="406.7" width="2.8" height="27.5" fill="#0a917a"/>
<line x1="285.10" x2="285.10" y1="386.0" y2="410.6" stroke="#0a917a" stroke-width="0.85"/>
<rect x="283.70" y="401.0" width="2.8" height="1.0" fill="#0a917a"/>
<line x1="289.11" x2="289.11" y1="390.5" y2="424.0" stroke="#0a917a" stroke-width="0.85"/>
<rect x="287.71" y="401.8" width="2.8" height="1.0" fill="#0a917a"/>
<line x1="293.11" x2="293.11" y1="395.8" y2="433.6" stroke="#e8303f" stroke-width="0.85"/>
<rect x="291.71" y="402.5" width="2.8" height="21.5" fill="#e8303f"/>
<line x1="297.12" x2="297.12" y1="415.3" y2="428.6" stroke="#0a917a" stroke-width="0.85"/>
<rect x="295.72" y="424.6" width="2.8" height="3.4" fill="#0a917a"/>
<line x1="301.12" x2="301.12" y1="406.3" y2="423.6" stroke="#0a917a" stroke-width="0.85"/>
<rect x="299.72" y="413.0" width="2.8" height="7.6" fill="#0a917a"/>
<line x1="305.12" x2="305.12" y1="404.4" y2="428.6" stroke="#e8303f" stroke-width="0.85"/>
<rect x="303.72" y="410.8" width="2.8" height="15.0" fill="#e8303f"/>
<line x1="309.13" x2="309.13" y1="418.4" y2="437.5" stroke="#e8303f" stroke-width="0.85"/>
<rect x="307.73" y="422.7" width="2.8" height="4.2" fill="#e8303f"/>
<line x1="313.13" x2="313.13" y1="370.1" y2="428.1" stroke="#0a917a" stroke-width="0.85"/>
<rect x="311.73" y="384.2" width="2.8" height="43.9" fill="#0a917a"/>
<line x1="317.13" x2="317.13" y1="370.8" y2="383.5" stroke="#0a917a" stroke-width="0.85"/>
<rect x="315.73" y="375.0" width="2.8" height="7.1" fill="#0a917a"/>
<line x1="321.14" x2="321.14" y1="365.2" y2="380.0" stroke="#0a917a" stroke-width="0.85"/>
<rect x="319.74" y="370.1" width="2.8" height="9.1" fill="#0a917a"/>
<line x1="325.14" x2="325.14" y1="362.4" y2="404.4" stroke="#e8303f" stroke-width="0.85"/>
<rect x="323.74" y="363.8" width="2.8" height="35.8" fill="#e8303f"/>
<line x1="329.14" x2="329.14" y1="382.8" y2="412.8" stroke="#0a917a" stroke-width="0.85"/>
<rect x="327.74" y="390.5" width="2.8" height="9.1" fill="#0a917a"/>
<line x1="333.15" x2="333.15" y1="386.3" y2="418.0" stroke="#e8303f" stroke-width="0.85"/>
<rect x="331.75" y="389.8" width="2.8" height="20.2" fill="#e8303f"/>
<line x1="337.15" x2="337.15" y1="396.1" y2="416.5" stroke="#e8303f" stroke-width="0.85"/>
<rect x="335.75" y="409.3" width="2.8" height="4.2" fill="#e8303f"/>
<line x1="341.16" x2="341.16" y1="404.4" y2="424.4" stroke="#e8303f" stroke-width="0.85"/>
<rect x="339.76" y="412.1" width="2.8" height="7.1" fill="#e8303f"/>
<line x1="345.16" x2="345.16" y1="410.9" y2="418.2" stroke="#e8303f" stroke-width="0.85"/>
<rect x="343.76" y="412.3" width="2.8" height="1.4" fill="#e8303f"/>
<line x1="349.16" x2="349.16" y1="408.6" y2="417.0" stroke="#0a917a" stroke-width="0.85"/>
<rect x="347.76" y="410.0" width="2.8" height="3.5" fill="#0a917a"/>
<line x1="353.17" x2="353.17" y1="406.5" y2="440.1" stroke="#e8303f" stroke-width="0.85"/>
<rect x="351.77" y="412.1" width="2.8" height="22.4" fill="#e8303f"/>
<line x1="357.17" x2="357.17" y1="373.6" y2="454.9" stroke="#0a917a" stroke-width="0.85"/>
<rect x="355.77" y="383.5" width="2.8" height="51.7" fill="#0a917a"/>
<line x1="361.17" x2="361.17" y1="330.3" y2="401.1" stroke="#0a917a" stroke-width="0.85"/>
<rect x="359.77" y="365.2" width="2.8" height="15.5" fill="#0a917a"/>
<line x1="365.18" x2="365.18" y1="273.4" y2="363.1" stroke="#0a917a" stroke-width="0.85"/>
<rect x="363.78" y="284.6" width="2.8" height="78.5" fill="#0a917a"/>
<line x1="369.18" x2="369.18" y1="281.1" y2="334.5" stroke="#e8303f" stroke-width="0.85"/>
<rect x="367.78" y="283.9" width="2.8" height="18.2" fill="#e8303f"/>
<line x1="373.18" x2="373.18" y1="251.9" y2="305.0" stroke="#e8303f" stroke-width="0.85"/>
<rect x="371.78" y="283.2" width="2.8" height="8.8" fill="#e8303f"/>
<line x1="377.19" x2="377.19" y1="227.3" y2="316.9" stroke="#0a917a" stroke-width="0.85"/>
<rect x="375.79" y="245.6" width="2.8" height="44.4" fill="#0a917a"/>
<line x1="381.19" x2="381.19" y1="222.4" y2="251.9" stroke="#0a917a" stroke-width="0.85"/>
<rect x="379.79" y="237.1" width="2.8" height="9.2" fill="#0a917a"/>
<line x1="385.19" x2="385.19" y1="214.6" y2="294.5" stroke="#e8303f" stroke-width="0.85"/>
<rect x="383.79" y="237.1" width="2.8" height="41.6" fill="#e8303f"/>
<line x1="389.20" x2="389.20" y1="217.4" y2="293.8" stroke="#0a917a" stroke-width="0.85"/>
<rect x="387.80" y="232.2" width="2.8" height="52.6" fill="#0a917a"/>
<line x1="393.20" x2="393.20" y1="228.7" y2="239.2" stroke="#0a917a" stroke-width="0.85"/>
<rect x="391.80" y="230.1" width="2.8" height="8.4" fill="#0a917a"/>
<line x1="397.21" x2="397.21" y1="220.3" y2="230.8" stroke="#0a917a" stroke-width="0.85"/>
<rect x="395.81" y="223.8" width="2.8" height="6.3" fill="#0a917a"/>
<line x1="401.21" x2="401.21" y1="215.3" y2="247.7" stroke="#e8303f" stroke-width="0.85"/>
<rect x="399.81" y="218.8" width="2.8" height="21.9" fill="#e8303f"/>
<line x1="405.21" x2="405.21" y1="228.7" y2="259.6" stroke="#e8303f" stroke-width="0.85"/>
<rect x="403.81" y="240.7" width="2.8" height="7.7" fill="#e8303f"/>
<line x1="409.22" x2="409.22" y1="268.5" y2="304.4" stroke="#0a917a" stroke-width="0.85"/>
<rect x="407.82" y="269.5" width="2.8" height="5.1" fill="#0a917a"/>
<line x1="413.22" x2="413.22" y1="254.0" y2="274.4" stroke="#e8303f" stroke-width="0.85"/>
<rect x="411.82" y="263.0" width="2.8" height="9.8" fill="#e8303f"/>
<line x1="417.22" x2="417.22" y1="227.3" y2="280.1" stroke="#0a917a" stroke-width="0.85"/>
<rect x="415.82" y="230.8" width="2.8" height="43.6" fill="#0a917a"/>
<line x1="421.23" x2="421.23" y1="204.8" y2="258.9" stroke="#e8303f" stroke-width="0.85"/>
<rect x="419.83" y="230.8" width="2.8" height="19.7" fill="#e8303f"/>
<line x1="425.23" x2="425.23" y1="209.0" y2="257.5" stroke="#0a917a" stroke-width="0.85"/>
<rect x="423.83" y="220.3" width="2.8" height="30.2" fill="#0a917a"/>
<line x1="429.23" x2="429.23" y1="215.3" y2="236.4" stroke="#e8303f" stroke-width="0.85"/>
<rect x="427.83" y="221.7" width="2.8" height="9.1" fill="#e8303f"/>
<line x1="433.24" x2="433.24" y1="204.1" y2="232.2" stroke="#0a917a" stroke-width="0.85"/>
<rect x="431.84" y="226.9" width="2.8" height="1.0" fill="#0a917a"/>
<line x1="437.24" x2="437.24" y1="222.4" y2="262.5" stroke="#e8303f" stroke-width="0.85"/>
<rect x="435.84" y="226.6" width="2.8" height="30.9" fill="#e8303f"/>
<line x1="441.25" x2="441.25" y1="247.0" y2="254.0" stroke="#0a917a" stroke-width="0.85"/>
<rect x="439.85" y="251.6" width="2.8" height="1.4" fill="#0a917a"/>
<line x1="445.25" x2="445.25" y1="249.1" y2="258.9" stroke="#e8303f" stroke-width="0.85"/>
<rect x="443.85" y="251.2" width="2.8" height="2.8" fill="#e8303f"/>
<line x1="449.25" x2="449.25" y1="234.3" y2="254.7" stroke="#0a917a" stroke-width="0.85"/>
<rect x="447.85" y="242.1" width="2.8" height="7.7" fill="#0a917a"/>
<line x1="453.26" x2="453.26" y1="177.1" y2="246.3" stroke="#0a917a" stroke-width="0.85"/>
<rect x="451.86" y="185.6" width="2.8" height="56.5" fill="#0a917a"/>
<line x1="457.26" x2="457.26" y1="141.3" y2="198.2" stroke="#0a917a" stroke-width="0.85"/>
<rect x="455.86" y="164.5" width="2.8" height="18.3" fill="#0a917a"/>
<line x1="461.26" x2="461.26" y1="142.0" y2="178.5" stroke="#0a917a" stroke-width="0.85"/>
<rect x="459.86" y="156.0" width="2.8" height="1.4" fill="#0a917a"/>
<line x1="465.27" x2="465.27" y1="143.4" y2="192.6" stroke="#e8303f" stroke-width="0.85"/>
<rect x="463.87" y="149.0" width="2.8" height="19.7" fill="#e8303f"/>
<line x1="469.27" x2="469.27" y1="164.5" y2="172.2" stroke="#e8303f" stroke-width="0.85"/>
<rect x="467.87" y="168.7" width="2.8" height="1.4" fill="#e8303f"/>
<line x1="473.27" x2="473.27" y1="164.5" y2="175.7" stroke="#e8303f" stroke-width="0.85"/>
<rect x="471.87" y="169.4" width="2.8" height="2.1" fill="#e8303f"/>
<line x1="477.28" x2="477.28" y1="170.1" y2="223.6" stroke="#e8303f" stroke-width="0.85"/>
<rect x="475.88" y="175.0" width="2.8" height="42.2" fill="#e8303f"/>
<line x1="481.28" x2="481.28" y1="206.7" y2="238.6" stroke="#0a917a" stroke-width="0.85"/>
<rect x="479.88" y="211.8" width="2.8" height="5.2" fill="#0a917a"/>
<line x1="485.28" x2="485.28" y1="197.5" y2="230.2" stroke="#e8303f" stroke-width="0.85"/>
<rect x="483.88" y="206.2" width="2.8" height="11.5" fill="#e8303f"/>
<line x1="489.29" x2="489.29" y1="216.2" y2="245.7" stroke="#e8303f" stroke-width="0.85"/>
<rect x="487.89" y="217.8" width="2.8" height="25.1" fill="#e8303f"/>
<line x1="493.29" x2="493.29" y1="189.1" y2="249.2" stroke="#0a917a" stroke-width="0.85"/>
<rect x="491.89" y="192.6" width="2.8" height="50.3" fill="#0a917a"/>
<line x1="497.30" x2="497.30" y1="178.5" y2="195.4" stroke="#e8303f" stroke-width="0.85"/>
<rect x="495.90" y="187.7" width="2.8" height="4.2" fill="#e8303f"/>
<line x1="501.30" x2="501.30" y1="178.5" y2="199.6" stroke="#0a917a" stroke-width="0.85"/>
<rect x="499.90" y="183.5" width="2.8" height="10.5" fill="#0a917a"/>
<line x1="505.30" x2="505.30" y1="159.5" y2="216.7" stroke="#e8303f" stroke-width="0.85"/>
<rect x="503.90" y="194.0" width="2.8" height="22.7" fill="#e8303f"/>
<line x1="509.31" x2="509.31" y1="206.7" y2="228.0" stroke="#0a917a" stroke-width="0.85"/>
<rect x="507.91" y="215.3" width="2.8" height="1.3" fill="#0a917a"/>
<line x1="513.31" x2="513.31" y1="215.5" y2="260.5" stroke="#e8303f" stroke-width="0.85"/>
<rect x="511.91" y="222.5" width="2.8" height="10.6" fill="#e8303f"/>
<line x1="517.31" x2="517.31" y1="225.3" y2="242.2" stroke="#e8303f" stroke-width="0.85"/>
<rect x="515.91" y="233.1" width="2.8" height="3.5" fill="#e8303f"/>
<line x1="521.32" x2="521.32" y1="243.6" y2="258.4" stroke="#0a917a" stroke-width="0.85"/>
<rect x="519.92" y="251.4" width="2.8" height="4.9" fill="#0a917a"/>
<line x1="525.32" x2="525.32" y1="224.6" y2="252.0" stroke="#0a917a" stroke-width="0.85"/>
<rect x="523.92" y="233.8" width="2.8" height="17.6" fill="#0a917a"/>
<line x1="529.32" x2="529.32" y1="228.1" y2="256.3" stroke="#e8303f" stroke-width="0.85"/>
<rect x="527.92" y="233.8" width="2.8" height="7.0" fill="#e8303f"/>
<line x1="533.33" x2="533.33" y1="241.0" y2="285.1" stroke="#e8303f" stroke-width="0.85"/>
<rect x="531.93" y="241.5" width="2.8" height="42.2" fill="#e8303f"/>
<line x1="537.33" x2="537.33" y1="253.5" y2="304.0" stroke="#e8303f" stroke-width="0.85"/>
<rect x="535.93" y="283.0" width="2.8" height="4.9" fill="#e8303f"/>
<line x1="541.34" x2="541.34" y1="259.8" y2="290.0" stroke="#0a917a" stroke-width="0.85"/>
<rect x="539.94" y="261.9" width="2.8" height="26.7" fill="#0a917a"/>
<line x1="545.34" x2="545.34" y1="241.5" y2="268.9" stroke="#0a917a" stroke-width="0.85"/>
<rect x="543.94" y="252.1" width="2.8" height="9.1" fill="#0a917a"/>
<line x1="549.34" x2="549.34" y1="247.1" y2="254.2" stroke="#e8303f" stroke-width="0.85"/>
<rect x="547.94" y="247.1" width="2.8" height="3.6" fill="#e8303f"/>
<line x1="553.35" x2="553.35" y1="245.0" y2="252.8" stroke="#0a917a" stroke-width="0.85"/>
<rect x="551.95" y="245.7" width="2.8" height="5.7" fill="#0a917a"/>
<line x1="557.35" x2="557.35" y1="241.5" y2="263.3" stroke="#e8303f" stroke-width="0.85"/>
<rect x="555.95" y="244.3" width="2.8" height="14.1" fill="#e8303f"/>
<line x1="561.35" x2="561.35" y1="248.5" y2="273.2" stroke="#e8303f" stroke-width="0.85"/>
<rect x="559.95" y="257.7" width="2.8" height="1.1" fill="#e8303f"/>
<line x1="565.36" x2="565.36" y1="200.8" y2="268.2" stroke="#0a917a" stroke-width="0.85"/>
<rect x="563.96" y="200.8" width="2.8" height="51.2" fill="#0a917a"/>
<line x1="569.36" x2="569.36" y1="192.4" y2="231.8" stroke="#e8303f" stroke-width="0.85"/>
<rect x="567.96" y="198.7" width="2.8" height="15.3" fill="#e8303f"/>
<line x1="573.36" x2="573.36" y1="200.0" y2="229.0" stroke="#0a917a" stroke-width="0.85"/>
<rect x="571.96" y="210.0" width="2.8" height="7.0" fill="#0a917a"/>
<line x1="577.37" x2="577.37" y1="203.5" y2="230.4" stroke="#e8303f" stroke-width="0.85"/>
<rect x="575.97" y="212.8" width="2.8" height="3.7" fill="#e8303f"/>
<line x1="581.37" x2="581.37" y1="204.3" y2="214.5" stroke="#0a917a" stroke-width="0.85"/>
<rect x="579.97" y="211.0" width="2.8" height="1.5" fill="#0a917a"/>
<line x1="585.37" x2="585.37" y1="214.2" y2="238.8" stroke="#e8303f" stroke-width="0.85"/>
<rect x="583.97" y="216.5" width="2.8" height="18.1" fill="#e8303f"/>
<line x1="589.38" x2="589.38" y1="194.5" y2="240.9" stroke="#0a917a" stroke-width="0.85"/>
<rect x="587.98" y="196.6" width="2.8" height="35.9" fill="#0a917a"/>
<line x1="593.38" x2="593.38" y1="195.2" y2="217.5" stroke="#e8303f" stroke-width="0.85"/>
<rect x="591.98" y="196.6" width="2.8" height="19.7" fill="#e8303f"/>
<line x1="597.39" x2="597.39" y1="181.1" y2="238.1" stroke="#e8303f" stroke-width="0.85"/>
<rect x="595.99" y="216.0" width="2.8" height="1.0" fill="#e8303f"/>
<line x1="601.39" x2="601.39" y1="206.4" y2="238.2" stroke="#e8303f" stroke-width="0.85"/>
<rect x="599.99" y="216.6" width="2.8" height="17.4" fill="#e8303f"/>
<line x1="605.39" x2="605.39" y1="226.1" y2="231.8" stroke="#e8303f" stroke-width="0.85"/>
<rect x="603.99" y="230.4" width="2.8" height="1.0" fill="#e8303f"/>
<line x1="609.40" x2="609.40" y1="219.1" y2="232.5" stroke="#0a917a" stroke-width="0.85"/>
<rect x="608.00" y="221.9" width="2.8" height="9.7" fill="#0a917a"/>
<line x1="613.40" x2="613.40" y1="218.4" y2="243.8" stroke="#0a917a" stroke-width="0.85"/>
<rect x="612.00" y="219.4" width="2.8" height="2.5" fill="#0a917a"/>
<line x1="617.40" x2="617.40" y1="189.5" y2="225.4" stroke="#e8303f" stroke-width="0.85"/>
<rect x="616.00" y="216.0" width="2.8" height="1.0" fill="#e8303f"/>
<line x1="621.41" x2="621.41" y1="202.2" y2="253.0" stroke="#e8303f" stroke-width="0.85"/>
<rect x="620.01" y="214.9" width="2.8" height="31.7" fill="#e8303f"/>
<line x1="625.41" x2="625.41" y1="245.3" y2="263.8" stroke="#e8303f" stroke-width="0.85"/>
<rect x="624.01" y="246.8" width="2.8" height="8.7" fill="#e8303f"/>
<line x1="629.41" x2="629.41" y1="232.7" y2="260.3" stroke="#0a917a" stroke-width="0.85"/>
<rect x="628.01" y="250.8" width="2.8" height="1.4" fill="#0a917a"/>
<line x1="633.42" x2="633.42" y1="245.3" y2="253.0" stroke="#e8303f" stroke-width="0.85"/>
<rect x="632.02" y="250.0" width="2.8" height="1.4" fill="#e8303f"/>
<line x1="637.42" x2="637.42" y1="247.0" y2="256.0" stroke="#e8303f" stroke-width="0.85"/>
<rect x="636.02" y="249.6" width="2.8" height="5.9" fill="#e8303f"/>
<line x1="641.43" x2="641.43" y1="251.7" y2="273.6" stroke="#e8303f" stroke-width="0.85"/>
<rect x="640.03" y="254.6" width="2.8" height="15.5" fill="#e8303f"/>
<line x1="645.43" x2="645.43" y1="257.4" y2="287.0" stroke="#e8303f" stroke-width="0.85"/>
<rect x="644.03" y="270.1" width="2.8" height="9.1" fill="#e8303f"/>
<line x1="649.43" x2="649.43" y1="246.8" y2="280.0" stroke="#0a917a" stroke-width="0.85"/>
<rect x="648.03" y="257.4" width="2.8" height="21.1" fill="#0a917a"/>
<line x1="653.44" x2="653.44" y1="241.8" y2="260.3" stroke="#0a917a" stroke-width="0.85"/>
<rect x="652.04" y="253.0" width="2.8" height="5.8" fill="#0a917a"/>
<line x1="657.44" x2="657.44" y1="235.8" y2="261.0" stroke="#0a917a" stroke-width="0.85"/>
<rect x="656.04" y="238.3" width="2.8" height="12.2" fill="#0a917a"/>
<line x1="661.44" x2="661.44" y1="223.3" y2="257.0" stroke="#e8303f" stroke-width="0.85"/>
<rect x="660.04" y="236.0" width="2.8" height="11.0" fill="#e8303f"/>
<line x1="665.45" x2="665.45" y1="239.8" y2="255.5" stroke="#e8303f" stroke-width="0.85"/>
<rect x="664.05" y="241.1" width="2.8" height="8.4" fill="#e8303f"/>
<line x1="669.45" x2="669.45" y1="248.8" y2="271.5" stroke="#e8303f" stroke-width="0.85"/>
<rect x="668.05" y="252.2" width="2.8" height="1.2" fill="#e8303f"/>
<line x1="673.45" x2="673.45" y1="244.2" y2="276.4" stroke="#e8303f" stroke-width="0.85"/>
<rect x="672.05" y="253.2" width="2.8" height="22.5" fill="#e8303f"/>
<line x1="677.46" x2="677.46" y1="263.8" y2="281.4" stroke="#e8303f" stroke-width="0.85"/>
<rect x="676.06" y="275.0" width="2.8" height="2.1" fill="#e8303f"/>
<line x1="681.46" x2="681.46" y1="272.9" y2="278.5" stroke="#0a917a" stroke-width="0.85"/>
<rect x="680.06" y="276.4" width="2.8" height="1.4" fill="#0a917a"/>
<line x1="685.46" x2="685.46" y1="262.4" y2="272.2" stroke="#0a917a" stroke-width="0.85"/>
<rect x="684.06" y="267.7" width="2.8" height="2.4" fill="#0a917a"/>
<line x1="689.47" x2="689.47" y1="261.7" y2="266.6" stroke="#e8303f" stroke-width="0.85"/>
<rect x="688.07" y="262.6" width="2.8" height="1.0" fill="#e8303f"/>
<line x1="693.47" x2="693.47" y1="258.8" y2="280.0" stroke="#e8303f" stroke-width="0.85"/>
<rect x="692.07" y="264.0" width="2.8" height="11.0" fill="#e8303f"/>
<line x1="697.48" x2="697.48" y1="270.1" y2="279.2" stroke="#0a917a" stroke-width="0.85"/>
<rect x="696.08" y="273.9" width="2.8" height="1.4" fill="#0a917a"/>
<line x1="701.48" x2="701.48" y1="253.9" y2="276.4" stroke="#e8303f" stroke-width="0.85"/>
<rect x="700.08" y="273.6" width="2.8" height="1.4" fill="#e8303f"/>
<line x1="705.48" x2="705.48" y1="267.3" y2="276.4" stroke="#0a917a" stroke-width="0.85"/>
<rect x="704.08" y="270.1" width="2.8" height="1.0" fill="#0a917a"/>
<line x1="709.49" x2="709.49" y1="270.1" y2="287.7" stroke="#e8303f" stroke-width="0.85"/>
<rect x="708.09" y="270.8" width="2.8" height="15.5" fill="#e8303f"/>
<line x1="713.49" x2="713.49" y1="287.7" y2="301.8" stroke="#e8303f" stroke-width="0.85"/>
<rect x="712.09" y="289.8" width="2.8" height="4.9" fill="#e8303f"/>
<line x1="717.49" x2="717.49" y1="292.6" y2="326.9" stroke="#e8303f" stroke-width="0.85"/>
<rect x="716.09" y="295.4" width="2.8" height="19.2" fill="#e8303f"/>
<line x1="721.50" x2="721.50" y1="306.1" y2="328.3" stroke="#e8303f" stroke-width="0.85"/>
<rect x="720.10" y="316.0" width="2.8" height="9.8" fill="#e8303f"/>
<line x1="725.50" x2="725.50" y1="317.4" y2="361.9" stroke="#e8303f" stroke-width="0.85"/>
<rect x="724.10" y="323.1" width="2.8" height="31.0" fill="#e8303f"/>
<line x1="729.50" x2="729.50" y1="343.6" y2="389.3" stroke="#e8303f" stroke-width="0.85"/>
<rect x="728.10" y="357.7" width="2.8" height="16.8" fill="#e8303f"/>
<line x1="733.51" x2="733.51" y1="371.7" y2="383.5" stroke="#e8303f" stroke-width="0.85"/>
<rect x="732.11" y="373.7" width="2.8" height="3.7" fill="#e8303f"/>
<rect x="15.46" y="0" width="2.8" height="14" fill="#f23645"/>
<path d="M4.8,78.0 C6.7,77.5 11.5,75.3 16.0,74.8 C20.5,74.3 24.7,74.9 32.0,75.2 C39.3,75.5 52.0,76.2 60.0,76.8 C68.0,77.4 72.7,78.1 80.0,78.8 C87.3,79.5 95.3,80.1 104.0,81.2 C112.7,82.3 124.0,83.7 132.0,85.2 C140.0,86.7 146.0,88.0 152.0,90.0 C158.0,92.0 161.3,93.2 168.0,97.2 C174.7,101.2 184.0,108.9 192.0,114.0 C200.0,119.1 208.7,123.9 216.0,128.0 C223.3,132.1 229.3,136.3 236.0,138.8 C242.7,141.3 248.7,140.7 256.0,143.2 C263.3,145.7 271.3,149.5 280.0,154.0 C288.7,158.5 298.0,164.2 308.0,170.0 C318.0,175.8 331.3,184.1 340.0,188.5 C348.7,192.9 353.3,194.4 360.0,196.5 C366.7,198.6 373.3,199.7 380.0,200.8 C386.7,201.9 393.3,202.5 400.0,203.2 C406.7,203.9 411.3,204.5 420.0,205.2 C428.7,205.9 442.0,207.3 452.0,207.2 C462.0,207.1 470.0,205.0 480.0,204.8 C490.0,204.6 502.0,205.5 512.0,206.0 C522.0,206.5 530.0,207.2 540.0,208.0 C550.0,208.8 561.3,210.1 572.0,210.8 C582.7,211.5 592.7,211.3 604.0,212.0 C615.3,212.7 629.3,213.8 640.0,214.8 C650.7,215.8 658.0,216.8 668.0,218.0 C678.0,219.2 692.0,220.9 700.0,222.0 C708.0,223.1 710.3,223.2 716.0,224.4 C721.7,225.6 731.0,228.4 734.0,229.2" fill="none" stroke="#24398a" stroke-width="1.25"/>
<line x1="5.3" y1="262" x2="521.4" y2="13.9" stroke="#000000" stroke-width="1.2"/>
</g>
<rect x="737.4" y="303.4" width="144.5" height="56.6" fill="#e6f4f2"/>
<rect x="737.4" y="360" width="144.5" height="29.7" fill="#fdecee"/>
<line x1="5" x2="956" y1="378.6" y2="378.6" stroke="#eeb0b6" stroke-width="1" stroke-dasharray="1.2 1.8"/>
<line x1="410" x2="956" y1="304.0" y2="304.0" stroke="#000" stroke-width="1.35" stroke-dasharray="5.3 6.47" stroke-dashoffset="0"/>
<line x1="325.2" x2="956" y1="360.2" y2="360.2" stroke="#000" stroke-width="1.35" stroke-dasharray="5.3 6.47" stroke-dashoffset="0"/>
<line x1="5" x2="956" y1="518.6" y2="518.6" stroke="#000" stroke-width="1.35" stroke-dasharray="5.3 6.47" stroke-dashoffset="0"/>
<path d="M744.7,358.7 C757,350 764,335 765.7,309" fill="none" stroke="#000" stroke-width="1.2" stroke-dasharray="1.6 1.6"/>
<path d="M760.6,311.8 L765.6,306.9 L771.2,311.8" fill="none" stroke="#000" stroke-width="1.2" stroke-dasharray="1.6 1.2"/>
<rect x="763.9" y="293.2" width="91.1" height="9.9" rx="2" fill="#089981"/>
<text x="809.4" y="300.8" font-size="7" fill="#ffffff" stroke="#ffffff" stroke-width="0" text-anchor="middle" font-weight="normal" >2,01 (3,817%) 201 1038,65</text>
<rect x="791" y="351.9" width="37.8" height="15.9" rx="2" fill="#f23645"/>
<text x="809.9" y="358.7" font-size="7" fill="#ffffff" stroke="#ffffff" stroke-width="0" text-anchor="middle" font-weight="normal" >−0,65 ~ 19</text>
<text x="809.9" y="366.2" font-size="7" fill="#ffffff" stroke="#ffffff" stroke-width="0" text-anchor="middle" font-weight="normal" >1,93</text>
<rect x="771.2" y="389.6" width="76.8" height="11.1" rx="2" fill="#f23645"/>
<text x="809.6" y="397.8" font-size="7" fill="#ffffff" stroke="#ffffff" stroke-width="0" text-anchor="middle" font-weight="normal" >1,04 (1,975%) 104 980</text>
<circle cx="733.7" cy="528.7" r="5.2" fill="#ffffff" stroke="#7e57c2" stroke-width="0.95"/>
<path d="M735,524.8 L731.8,529 L734,529 L732.6,532.2 L735.8,528 L733.6,528 Z" fill="#7e57c2"/>
<circle cx="737.1" cy="525.1" r="1.3" fill="#f23645"/>
<g clip-path="url(#rsi)">
<rect x="5" y="556.5" width="951" height="59.7" fill="#f1edf9"/>
<line x1="5" x2="956" y1="556.5" y2="556.5" stroke="#9a9aa0" stroke-width="1" stroke-dasharray="2.6 3.3" stroke-dashoffset="0"/>
<line x1="5" x2="956" y1="580.2" y2="580.2" stroke="#a8a8ae" stroke-width="1" stroke-dasharray="2.6 3.3" stroke-dashoffset="0"/>
<line x1="5" x2="956" y1="616.3" y2="616.3" stroke="#9a9aa0" stroke-width="1" stroke-dasharray="2.6 3.3" stroke-dashoffset="0"/>
<path d="M5.0,572.0 C6.2,570.8 9.8,566.8 12.0,565.0 C14.2,563.2 15.7,562.2 18.0,561.4 C20.3,560.6 23.3,559.9 26.0,560.0 C28.7,560.1 31.0,560.7 34.0,562.0 C37.0,563.3 40.3,565.7 44.0,568.0 C47.7,570.3 52.3,573.8 56.0,576.0 C59.7,578.2 62.7,579.3 66.0,581.0 C69.3,582.7 72.7,585.0 76.0,586.0 C79.3,587.0 82.7,587.0 86.0,587.0 C89.3,587.0 93.0,586.2 96.0,586.0 C99.0,585.8 101.0,585.5 104.0,585.6 C107.0,585.7 110.7,586.3 114.0,586.6 C117.3,586.9 121.0,587.3 124.0,587.4 C127.0,587.5 129.3,586.7 132.0,587.0 C134.7,587.3 137.3,588.2 140.0,589.0 C142.7,589.8 144.7,590.3 148.0,592.0 C151.3,593.7 156.3,597.0 160.0,599.0 C163.7,601.0 166.7,602.3 170.0,604.0 C173.3,605.7 177.0,607.6 180.0,609.4 C183.0,611.2 185.7,613.1 188.0,615.0 C190.3,616.9 192.0,619.3 194.0,621.0 C196.0,622.7 198.3,624.5 200.0,625.0 C201.7,625.5 202.5,624.1 204.0,624.0 C205.5,623.9 207.0,624.7 209.0,624.4 C211.0,624.1 213.5,622.8 216.0,622.0 C218.5,621.2 221.7,620.3 224.0,619.4 C226.3,618.5 227.8,617.5 230.0,616.6 C232.2,615.7 234.7,615.9 237.0,614.0 C239.3,612.1 241.5,608.2 244.0,605.0 C246.5,601.8 249.7,597.7 252.0,595.0 C254.3,592.3 255.7,590.5 258.0,589.0 C260.3,587.5 263.0,586.7 266.0,586.0 C269.0,585.3 271.7,585.2 276.0,584.6 C280.3,584.0 288.0,582.3 292.0,582.6 C296.0,582.9 297.3,585.1 300.0,586.6 C302.7,588.1 305.7,590.3 308.0,591.4 C310.3,592.5 311.3,592.8 314.0,593.0 C316.7,593.2 320.3,592.8 324.0,592.4 C327.7,592.0 332.0,591.0 336.0,590.6 C340.0,590.2 344.7,590.3 348.0,590.0 C351.3,589.7 353.0,590.0 356.0,589.0 C359.0,588.0 362.7,585.5 366.0,584.0 C369.3,582.5 372.7,581.5 376.0,580.0 C379.3,578.5 382.0,577.0 386.0,575.0 C390.0,573.0 396.3,569.7 400.0,568.0 C403.7,566.3 405.0,565.7 408.0,565.0 C411.0,564.3 414.7,564.1 418.0,564.0 C421.3,563.9 424.3,564.1 428.0,564.6 C431.7,565.1 436.0,566.3 440.0,567.0 C444.0,567.7 448.7,568.5 452.0,568.6 C455.3,568.7 456.7,567.9 460.0,567.4 C463.3,566.9 468.7,565.5 472.0,565.4 C475.3,565.3 477.0,566.1 480.0,566.6 C483.0,567.1 486.3,568.2 490.0,568.4 C493.7,568.6 498.3,567.2 502.0,567.6 C505.7,568.0 508.3,569.6 512.0,571.0 C515.7,572.4 520.0,574.3 524.0,576.0 C528.0,577.7 532.0,579.8 536.0,581.0 C540.0,582.2 544.3,582.2 548.0,583.0 C551.7,583.8 555.7,585.5 558.0,586.0 C560.3,586.5 559.7,586.3 562.0,586.0 C564.3,585.7 568.3,584.8 572.0,584.0 C575.7,583.2 580.7,582.2 584.0,581.4 C587.3,580.6 589.3,579.7 592.0,579.0 C594.7,578.3 597.0,577.4 600.0,577.0 C603.0,576.6 607.2,576.9 610.0,576.6 C612.8,576.3 613.7,574.9 617.0,575.4 C620.3,575.9 626.2,578.2 630.0,579.4 C633.8,580.6 636.7,581.5 640.0,582.6 C643.3,583.7 646.7,585.4 650.0,586.0 C653.3,586.6 656.7,585.8 660.0,586.0 C663.3,586.2 666.7,586.9 670.0,587.4 C673.3,587.9 676.3,588.7 680.0,589.0 C683.7,589.3 688.0,589.5 692.0,589.4 C696.0,589.3 701.0,588.5 704.0,588.6 C707.0,588.7 707.3,588.9 710.0,590.0 C712.7,591.1 716.3,592.6 720.0,595.0 C723.7,597.4 730.3,602.8 732.4,604.4" fill="none" stroke="#52ab9d" stroke-width="1"/>
<polyline points="6.0,559.0 9.0,558.6 13.0,556.0 17.0,562.0 20.0,569.0 24.0,582.0 28.0,581.0 32.0,581.4 36.0,584.0 41.0,589.4 48.0,580.4 53.0,586.4 58.0,586.4 64.0,586.0 68.0,591.4 72.4,598.6 77.0,586.0 81.0,583.4 88.0,585.0 92.0,583.0 97.0,577.0 100.0,578.0 104.4,586.6 109.0,582.0 113.0,597.4 116.0,596.6 121.0,593.0 125.0,596.6 128.0,596.0 132.4,587.0 140.0,605.0 145.0,601.6 148.4,616.0 153.0,609.4 157.0,615.0 162.0,615.0 166.0,616.0 170.0,618.0 175.0,624.0 178.0,626.0 183.0,636.0 189.0,649.0 193.0,652.6 197.0,641.0 200.0,622.0 204.4,601.4 208.4,615.4 212.4,599.0 216.4,605.0 224.0,602.6 228.4,597.4 233.0,604.0 237.0,608.0 241.0,570.0 244.0,569.0 248.0,564.4 253.0,566.6 257.0,568.6 261.0,581.0 265.0,588.0 271.0,594.0 277.0,600.6 281.0,594.6 286.0,593.0 290.0,594.6 294.0,597.4 298.0,597.0 301.0,594.6 305.0,596.6 309.0,596.6 313.0,585.0 317.0,582.6 321.0,582.0 325.6,588.0 329.0,586.0 334.0,591.0 341.0,592.6 348.0,589.4 353.0,596.6 357.0,580.0 361.0,575.0 365.0,562.0 370.0,565.4 373.0,564.0 379.0,558.0 382.0,558.6 385.0,566.6 389.0,561.0 396.0,560.6 400.0,563.4 404.0,566.0 409.0,571.0 413.0,572.0 417.0,565.0 421.0,569.4 425.0,564.6 430.0,567.0 433.0,566.0 437.0,574.6 441.0,573.4 446.0,574.0 450.0,570.6 453.0,562.6 456.0,559.4 460.0,557.0 466.0,561.0 473.0,561.4 477.0,575.0 482.0,574.6 485.0,576.6 489.0,583.0 493.0,570.6 498.0,570.0 501.0,569.4 505.0,578.0 509.0,578.6 513.0,583.0 517.0,584.0 521.0,588.6 526.0,582.6 529.0,584.6 533.0,597.0 537.0,598.6 542.0,588.0 546.0,584.6 551.0,583.4 554.0,584.6 558.0,586.0 561.0,586.0 565.0,569.0 569.0,572.0 572.0,571.4 576.0,574.0 581.0,572.6 584.0,581.0 589.0,570.6 594.0,576.0 601.0,581.4 605.0,581.0 609.0,577.4 617.0,576.0 621.0,587.0 625.0,590.6 630.0,588.6 635.0,589.0 639.0,592.0 645.0,600.0 649.0,588.0 653.0,586.0 657.0,579.0 661.0,582.0 668.0,585.0 673.0,595.0 676.0,596.6 681.0,596.0 685.0,591.4 689.0,587.0 693.0,592.6 700.0,592.6 705.0,589.0 708.0,597.0 713.0,603.0 718.0,615.0 721.0,620.0 725.0,633.0 729.0,642.0 732.4,644.0" fill="none" stroke="#8578b0" stroke-width="0.85" stroke-linejoin="round"/>
</g>
<text x="6" y="10.9" font-size="6.9" fill="#e4e4e4" stroke="#e4e4e4" stroke-width="0.22" textLength="284" lengthAdjust="spacingAndGlyphs">TECHNICAL_ANALYSIS_R создал(а) график на TradingView.com, Мар 06, 2026 10:10 UTC+3</text>
<text x="10" y="25" font-size="6.8" fill="#131722" stroke="#131722" stroke-width="0.18" font-weight="normal" textLength="134.5" lengthAdjust="spacingAndGlyphs">Аэрофлот-росс.авиалин(ПАО)ао - 1Д - RUS</text>
<text x="148.8" y="25" font-size="6.8" fill="#131722" stroke="#131722" stroke-width="0.18" font-weight="normal" textLength="16.2" lengthAdjust="spacingAndGlyphs">ОТКР</text>
<text x="165" y="25" font-size="6.8" fill="#e8505c" stroke="#e8505c" stroke-width="0.18" font-weight="normal" textLength="17" lengthAdjust="spacingAndGlyphs">52,14</text>
<text x="186.2" y="25" font-size="6.8" fill="#131722" stroke="#131722" stroke-width="0.18" font-weight="normal" textLength="18.3" lengthAdjust="spacingAndGlyphs">МАКС</text>
<text x="204.5" y="25" font-size="6.8" fill="#e8505c" stroke="#e8505c" stroke-width="0.18" font-weight="normal" textLength="16.5" lengthAdjust="spacingAndGlyphs">52,21</text>
<text x="224.8" y="25" font-size="6.8" fill="#131722" stroke="#131722" stroke-width="0.18" font-weight="normal" textLength="15.2" lengthAdjust="spacingAndGlyphs">МИН</text>
<text x="240" y="25" font-size="6.8" fill="#e8505c" stroke="#e8505c" stroke-width="0.18" font-weight="normal" textLength="16.5" lengthAdjust="spacingAndGlyphs">51,80</text>
<text x="260.2" y="25" font-size="6.8" fill="#131722" stroke="#131722" stroke-width="0.18" font-weight="normal" textLength="16.6" lengthAdjust="spacingAndGlyphs">ЗАКР</text>
<text x="276.8" y="25" font-size="6.8" fill="#e8505c" stroke="#e8505c" stroke-width="0.18" font-weight="normal" textLength="16.4" lengthAdjust="spacingAndGlyphs">52,01</text>
<text x="297.5" y="25" font-size="6.8" fill="#e8505c" stroke="#e8505c" stroke-width="0.18" font-weight="normal" textLength="45.5" lengthAdjust="spacingAndGlyphs">−0,12 (−0,23%)</text>
<text x="10" y="34.2" font-size="6.8" fill="#131722" stroke="#131722" stroke-width="0.18" font-weight="normal" textLength="51" lengthAdjust="spacingAndGlyphs">EMA (200, close)</text>
<text x="65.2" y="34.2" font-size="6.8" fill="#2a3f9a" stroke="#2a3f9a" stroke-width="0.18" font-weight="normal" textLength="16.2" lengthAdjust="spacingAndGlyphs">57,42</text>
<text x="10" y="43.4" font-size="6.8" fill="#131722" stroke="#131722" stroke-width="0.18" font-weight="normal" textLength="35" lengthAdjust="spacingAndGlyphs">Объем (20)</text>
<text x="49.6" y="43.4" font-size="6.8" fill="#e8505c" stroke="#e8505c" stroke-width="0.18" font-weight="normal" textLength="18.3" lengthAdjust="spacingAndGlyphs">1,55 M</text>
<text x="71.8" y="43.4" font-size="6.8" fill="#3d5fd6" stroke="#3d5fd6" stroke-width="0.18" font-weight="normal" textLength="22.5" lengthAdjust="spacingAndGlyphs">12,08 M</text>
<text x="9.75" y="547.2" font-size="6.8" fill="#131722" stroke="#131722" stroke-width="0.18" font-weight="normal" textLength="42.75" lengthAdjust="spacingAndGlyphs">RSI (14, close)</text>
<text x="57" y="547.2" font-size="6.8" fill="#7e57c2" stroke="#7e57c2" stroke-width="0.18" font-weight="normal" textLength="16" lengthAdjust="spacingAndGlyphs">19,99</text>
<text x="76.8" y="547.2" font-size="6.8" fill="#1a9c86" stroke="#1a9c86" stroke-width="0.18" font-weight="normal" textLength="17.4" lengthAdjust="spacingAndGlyphs">35,39</text>
<text x="99.7" y="546.8" font-size="5.6" fill="#131722" stroke="#131722" stroke-width="0.15" text-anchor="middle">∅</text>
<text x="108" y="546.8" font-size="5.6" fill="#131722" stroke="#131722" stroke-width="0.15" text-anchor="middle">∅</text>
<text x="116.2" y="546.8" font-size="5.6" fill="#131722" stroke="#131722" stroke-width="0.15" text-anchor="middle">∅</text>
<text x="124.5" y="546.8" font-size="5.6" fill="#131722" stroke="#131722" stroke-width="0.15" text-anchor="middle">∅</text>
<text x="970" y="44.5" font-size="7.1" fill="#131722" stroke="#131722" stroke-width="0.15" text-anchor="middle" font-weight="normal" >65,00</text>
<text x="970" y="67.1" font-size="7.1" fill="#131722" stroke="#131722" stroke-width="0.15" text-anchor="middle" font-weight="normal" >64,00</text>
<text x="970" y="91.5" font-size="7.1" fill="#131722" stroke="#131722" stroke-width="0.15" text-anchor="middle" font-weight="normal" >63,00</text>
<text x="970" y="115.5" font-size="7.1" fill="#131722" stroke="#131722" stroke-width="0.15" text-anchor="middle" font-weight="normal" >62,00</text>
<text x="970" y="140.0" font-size="7.1" fill="#131722" stroke="#131722" stroke-width="0.15" text-anchor="middle" font-weight="normal" >61,00</text>
<text x="970" y="164.5" font-size="7.1" fill="#131722" stroke="#131722" stroke-width="0.15" text-anchor="middle" font-weight="normal" >60,00</text>
<text x="970" y="190.0" font-size="7.1" fill="#131722" stroke="#131722" stroke-width="0.15" text-anchor="middle" font-weight="normal" >59,00</text>
<text x="970" y="215.7" font-size="7.1" fill="#131722" stroke="#131722" stroke-width="0.15" text-anchor="middle" font-weight="normal" >58,00</text>
<text x="970" y="242.3" font-size="7.1" fill="#131722" stroke="#131722" stroke-width="0.15" text-anchor="middle" font-weight="normal" >57,00</text>
<text x="970" y="268.8" font-size="7.1" fill="#131722" stroke="#131722" stroke-width="0.15" text-anchor="middle" font-weight="normal" >56,00</text>
<text x="970" y="322.8" font-size="7.1" fill="#131722" stroke="#131722" stroke-width="0.15" text-anchor="middle" font-weight="normal" >54,00</text>
<text x="970" y="353.9" font-size="7.1" fill="#131722" stroke="#131722" stroke-width="0.15" text-anchor="middle" font-weight="normal" >52,66</text>
<text x="970" y="368.5" font-size="7.1" fill="#131722" stroke="#131722" stroke-width="0.15" text-anchor="middle" font-weight="normal" >52,40</text>
<text x="970" y="404.1" font-size="7.1" fill="#131722" stroke="#131722" stroke-width="0.15" text-anchor="middle" font-weight="normal" >51,20</text>
<text x="970" y="421.4" font-size="7.1" fill="#131722" stroke="#131722" stroke-width="0.15" text-anchor="middle" font-weight="normal" >50,60</text>
<text x="970" y="439.4" font-size="7.1" fill="#131722" stroke="#131722" stroke-width="0.15" text-anchor="middle" font-weight="normal" >50,00</text>
<text x="970" y="457.4" font-size="7.1" fill="#131722" stroke="#131722" stroke-width="0.15" text-anchor="middle" font-weight="normal" >49,40</text>
<text x="970" y="475.4" font-size="7.1" fill="#131722" stroke="#131722" stroke-width="0.15" text-anchor="middle" font-weight="normal" >48,80</text>
<text x="970" y="494.6" font-size="7.1" fill="#131722" stroke="#131722" stroke-width="0.15" text-anchor="middle" font-weight="normal" >48,20</text>
<text x="970" y="512.2" font-size="7.1" fill="#131722" stroke="#131722" stroke-width="0.15" text-anchor="middle" font-weight="normal" >47,65</text>
<g clip-path="url(#c90)">
<text x="970" y="541.0" font-size="7.1" fill="#131722" stroke="#131722" stroke-width="0.15" text-anchor="middle" font-weight="normal" >90,00</text>
</g>
<text x="970" y="558.5" font-size="7.1" fill="#131722" stroke="#131722" stroke-width="0.15" text-anchor="middle" font-weight="normal" >70,00</text>
<text x="970" y="582.5" font-size="7.1" fill="#131722" stroke="#131722" stroke-width="0.15" text-anchor="middle" font-weight="normal" >50,00</text>
<text x="970" y="624.2" font-size="7.1" fill="#131722" stroke="#131722" stroke-width="0.15" text-anchor="middle" font-weight="normal" >27,50</text>
<text x="970" y="640.8" font-size="7.1" fill="#131722" stroke="#131722" stroke-width="0.15" text-anchor="middle" font-weight="normal" >21,50</text>
<text x="970" y="659.5" font-size="7.1" fill="#131722" stroke="#131722" stroke-width="0.15" text-anchor="middle" font-weight="normal" >16,50</text>
<rect x="959.5" y="17.5" width="32" height="12.5" rx="2" fill="#ffffff" stroke="#eeeeee" stroke-width="1"/>
<text x="975.5" y="26.2" font-size="7.2" fill="#131722" stroke="#131722" stroke-width="0.15" text-anchor="middle" font-weight="normal" >RUB</text>
<rect x="956.7" y="224" width="25" height="9.300000000000011" rx="1.5" fill="#1c3585"/>
<text x="969.2" y="231.25" font-size="7.2" fill="#ffffff" stroke="#ffffff" stroke-width="0" text-anchor="middle" font-weight="normal" >57,42</text>
<rect x="956.7" y="290.8" width="25" height="9.599999999999966" rx="1.5" fill="#089981"/>
<text x="969.2" y="298.20000000000005" font-size="7.2" fill="#ffffff" stroke="#ffffff" stroke-width="0" text-anchor="middle" font-weight="normal" >54,67</text>
<rect x="956.7" y="299.8" width="25" height="8.800000000000011" rx="1.5" fill="#000000"/>
<text x="969.2" y="306.80000000000007" font-size="7.2" fill="#ffffff" stroke="#ffffff" stroke-width="0" text-anchor="middle" font-weight="normal" >54,64</text>
<rect x="956.7" y="355.3" width="25" height="8.899999999999977" rx="1.5" fill="#000000"/>
<text x="969.2" y="362.35" font-size="7.2" fill="#ffffff" stroke="#ffffff" stroke-width="0" text-anchor="middle" font-weight="normal" >52,64</text>
<rect x="956.7" y="374.4" width="35.3" height="16" rx="1.5" fill="#f23645"/>
<text x="969.2" y="381.1" font-size="7.2" fill="#ffffff" stroke="#ffffff" stroke-width="0" text-anchor="middle" font-weight="normal" >52,01</text>
<text x="974.3" y="388.3" font-size="7.2" fill="#ffffff" stroke="#ffffff" stroke-width="0" text-anchor="middle" font-weight="normal" >13:39:42</text>
<rect x="956.7" y="390.3" width="25" height="9.699999999999989" rx="1.5" fill="#f23645"/>
<text x="969.2" y="397.75" font-size="7.2" fill="#ffffff" stroke="#ffffff" stroke-width="0" text-anchor="middle" font-weight="normal" >51,62</text>
<rect x="956.7" y="514.2" width="25" height="8.599999999999909" rx="1.5" fill="#000000"/>
<text x="969.2" y="521.1" font-size="7.2" fill="#ffffff" stroke="#ffffff" stroke-width="0" text-anchor="middle" font-weight="normal" >47,38</text>
<rect x="956.7" y="532.8" width="27.5" height="2.8" rx="1" fill="#f23645"/>
<rect x="956.7" y="523.4" width="31" height="8.8" rx="1.5" fill="#2962ff"/>
<text x="972.2" y="530.4" font-size="7.2" fill="#ffffff" stroke="#ffffff" stroke-width="0" text-anchor="middle" font-weight="normal" >12,08 M</text>
<rect x="956.7" y="600.3" width="25" height="8.900000000000091" rx="1.5" fill="#089981"/>
<text x="969.2" y="607.35" font-size="7.2" fill="#ffffff" stroke="#ffffff" stroke-width="0" text-anchor="middle" font-weight="normal" >35,39</text>
<rect x="956.7" y="640.2" width="25" height="8.899999999999977" rx="1.5" fill="#7e57c2"/>
<text x="969.2" y="647.2500000000001" font-size="7.2" fill="#ffffff" stroke="#ffffff" stroke-width="0" text-anchor="middle" font-weight="normal" >19,99</text>
<text x="68.5" y="674.1" font-size="7.2" fill="#131722" stroke="#131722" stroke-width="0.15" text-anchor="middle" font-weight="normal" >Сен</text>
<text x="180.5" y="674.1" font-size="7.2" fill="#131722" stroke="#131722" stroke-width="0.15" text-anchor="middle" font-weight="normal" >Окт</text>
<text x="297" y="674.1" font-size="7.2" fill="#131722" stroke="#131722" stroke-width="0.15" text-anchor="middle" font-weight="normal" >Ноя</text>
<text x="401" y="674.1" font-size="7.2" fill="#131722" stroke="#131722" stroke-width="0.15" text-anchor="middle" font-weight="normal" >Дек</text>
<text x="512.8" y="674.1" font-size="7.2" fill="#131722" stroke="#131722" stroke-width="0.15" text-anchor="middle" font-weight="bold" >2026</text>
<text x="609.2" y="674.1" font-size="7.2" fill="#131722" stroke="#131722" stroke-width="0.15" text-anchor="middle" font-weight="normal" >Фев</text>
<text x="713.2" y="674.1" font-size="7.2" fill="#131722" stroke="#131722" stroke-width="0.15" text-anchor="middle" font-weight="normal" >Мар</text>
<text x="821.5" y="674.1" font-size="7.2" fill="#131722" stroke="#131722" stroke-width="0.15" text-anchor="middle" font-weight="normal" >Апр</text>
<text x="941.8" y="674.1" font-size="7.2" fill="#131722" stroke="#131722" stroke-width="0.15" text-anchor="middle" font-weight="normal" >Май</text>
<g fill="#ededed"><path d="M6.5,690.5 H13 V699 H10 V693.5 H6.5 Z"/><circle cx="15.6" cy="692.1" r="1.55"/><path d="M18.6,690.5 H22.2 L18.2,699 H14.6 Z"/></g>
<text x="26.5" y="698.6" font-size="11.2" fill="#ededed" stroke="#ededed" stroke-width="0.18" font-weight="bold" textLength="64" lengthAdjust="spacingAndGlyphs">TradingView</text>
</svg></body></html>
